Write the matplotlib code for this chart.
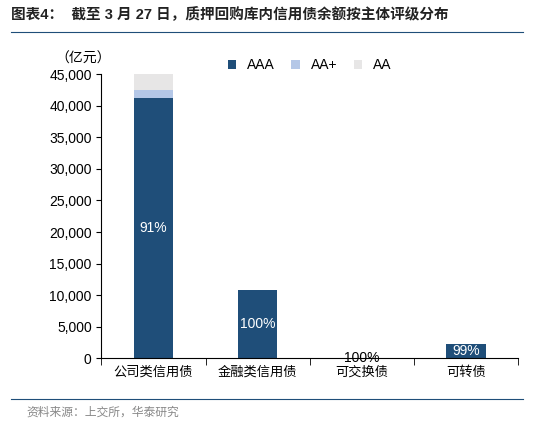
import matplotlib
matplotlib.use('Agg')
import matplotlib.pyplot as plt
import numpy as np

plt.rcParams['font.family'] = ['Liberation Sans', 'Noto Sans CJK SC', 'DejaVu Sans']

categories = ['公司类信用债', '金融类信用债', '可交换债', '可转债']
aaa = [41300, 10800, 30, 2200]
aa_plus = [1200, 0, 0, 20]
aa = [2500, 0, 0, 0]
pct_labels = ['91%', '100%', '100%', '99%']

fig = plt.figure(figsize=(5.34, 4.24), dpi=100)
ax = fig.add_axes([0.19, 0.155, 0.78, 0.67])

x = np.arange(len(categories))
w = 0.38
ax.bar(x, aaa, w, color='#1f4e79', label='AAA')
ax.bar(x, aa_plus, w, bottom=aaa, color='#b4c7e7', label='AA+')
ax.bar(x, aa, w, bottom=np.array(aaa) + np.array(aa_plus), color='#e7e6e6', label='AA')

for i, lab in enumerate(pct_labels):
    y = aaa[i] / 2
    col = 'white' if aaa[i] > 1500 else 'black'
    ax.text(x[i], y, lab, ha='center', va='center', color=col, fontsize=10)

ax.set_ylim(0, 45000)
ax.set_yticks(range(0, 45001, 5000))
ax.set_yticklabels([f'{v:,}' for v in range(0, 45001, 5000)], fontsize=10)
ax.set_xlim(-0.5, 3.5)
ax.set_xticks(x)
ax.set_xticklabels(categories, fontsize=9.5)
ax.set_xticks(np.arange(-0.5, 4, 1), minor=True)
ax.tick_params(axis='x', which='major', length=0, pad=6)
ax.tick_params(axis='x', which='minor', length=5)
for s in ['top', 'right']:
    ax.spines[s].set_visible(False)
ax.text(-0.11, 1.04, '（亿元）', transform=ax.transAxes, fontsize=10)
ax.legend(loc='upper center', bbox_to_anchor=(0.5, 1.1), ncol=3, frameon=False,
          fontsize=10, handlelength=0.6, handleheight=0.6, columnspacing=1.2)

fig.text(0.02, 0.955, '图表4：  截至 3 月 27 日，质押回购库内信用债余额按主体评级分布',
         fontsize=10.5, fontweight='bold', color='#222222')
fig.add_artist(plt.Line2D([0.02, 0.98], [0.925, 0.925], color='#1f4e79', lw=0.8))
fig.add_artist(plt.Line2D([0.02, 0.98], [0.06, 0.06], color='#1f4e79', lw=0.8))
fig.text(0.05, 0.02, '资料来源：上交所，华泰研究', fontsize=8.5, color='#888888')

fig.savefig('out.png', dpi=100)
